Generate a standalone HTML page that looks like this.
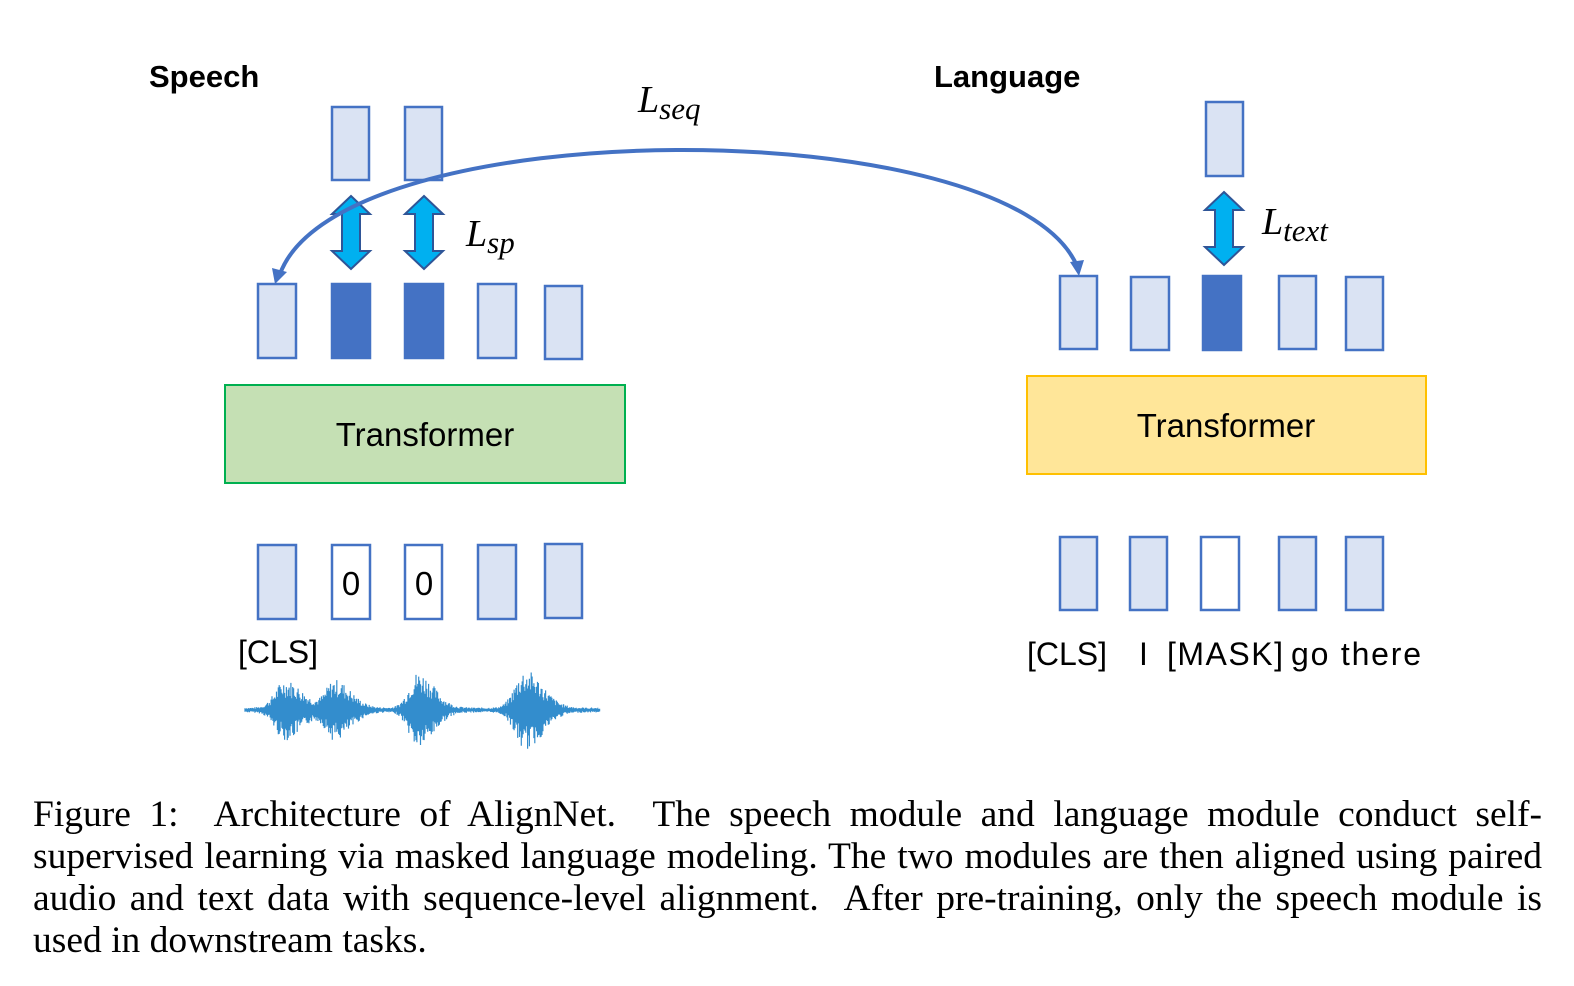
<!DOCTYPE html>
<html><head><meta charset="utf-8">
<style>
html,body{margin:0;padding:0;background:#fff;}
body{width:1574px;height:986px;position:relative;overflow:hidden;}
svg{position:absolute;left:0;top:0;}
#cap{position:absolute;left:33px;top:794px;width:1509px;font-family:"Liberation Serif",serif;font-size:37.5px;line-height:42px;color:#000;}
#cap div{text-align:justify;text-align-last:justify;white-space:nowrap;}
#cap div.last{text-align-last:left;}
</style></head><body>
<svg width="1574" height="986" viewBox="0 0 1574 986" xmlns="http://www.w3.org/2000/svg">
<g font-family="Liberation Sans, sans-serif" font-weight="bold" font-size="31">
<text x="149" y="87">Speech</text>
<text x="934" y="87">Language</text>
</g>
<g stroke="#4472c4" stroke-width="2.5" fill="#dae3f3">
<rect x="332" y="107" width="37" height="73"/>
<rect x="405" y="107" width="37" height="73"/>
<rect x="1206" y="102" width="37" height="74"/>
<rect x="258" y="284" width="38" height="74"/>
<rect x="332" y="284" width="38" height="74" fill="#4472c4"/>
<rect x="405" y="284" width="38" height="74" fill="#4472c4"/>
<rect x="478" y="284" width="38" height="74"/>
<rect x="545" y="286" width="37" height="73"/>
<rect x="258" y="545" width="38" height="74"/>
<rect x="332" y="545" width="38" height="74" fill="#fff"/>
<rect x="405" y="545" width="37" height="74" fill="#fff"/>
<rect x="478" y="545" width="38" height="74"/>
<rect x="545" y="544" width="37" height="74"/>
<rect x="1060" y="276" width="37" height="73"/>
<rect x="1131" y="277" width="38" height="73"/>
<rect x="1203" y="276" width="38" height="74" fill="#4472c4"/>
<rect x="1279" y="276" width="37" height="73"/>
<rect x="1346" y="277" width="37" height="73"/>
<rect x="1060" y="537" width="37" height="73"/>
<rect x="1130" y="537" width="37" height="73"/>
<rect x="1201" y="537" width="38" height="73" fill="#fff"/>
<rect x="1279" y="537" width="37" height="73"/>
<rect x="1346" y="537" width="37" height="73"/>
</g>
<rect x="225" y="385" width="400" height="98" fill="#c5e0b4" stroke="#00b050" stroke-width="2"/>
<rect x="1027" y="376" width="399" height="98" fill="#ffe699" stroke="#ffc000" stroke-width="2"/>
<g font-family="Liberation Sans, sans-serif" font-size="33" text-anchor="middle">
<text x="425" y="446">Transformer</text>
<text x="1226" y="437">Transformer</text>
<text x="351" y="595">0</text>
<text x="424" y="595">0</text>
</g>
<g font-family="Liberation Sans, sans-serif" font-size="32">
<text x="238" y="663">[CLS]</text>
<text x="1027" y="665">[CLS]</text>
<text x="1139" y="665">I</text>
<text x="1167" y="665" textLength="116">[MASK]</text>
<text x="1291" y="665" textLength="130">go there</text>
</g>
<g fill="#00b0f0" stroke="#2f5597" stroke-width="2" stroke-linejoin="miter">
<polygon points="351,196 370,214 360,214 360,251 370,251 351,269 332,251 342,251 342,214 332,214"/>
<polygon points="424,196 443,214 433,214 433,251 443,251 424,269 405,251 415,251 415,214 405,214"/>
<polygon points="1224,192 1243,210 1233,210 1233,247 1243,247 1224,265 1205,247 1215,247 1215,210 1205,210"/>
</g>
<path d="M280,274 C340,110 1010,110 1077,266" fill="none" stroke="#4472c4" stroke-width="4"/>
<polygon points="275,284 272,268 287,272" fill="#4472c4"/>
<polygon points="1079,276 1070,262 1084,260" fill="#4472c4"/>
<g font-family="Liberation Serif, serif" font-style="italic" fill="#000">
<text x="638" y="112" font-size="38">L<tspan font-size="31" dy="7">seq</tspan></text>
<text x="466" y="246" font-size="38">L<tspan font-size="31" dy="7">sp</tspan></text>
<text x="1262" y="234" font-size="38">L<tspan font-size="31" dy="7">text</tspan></text>
</g>
<g id="wave" stroke="#0070c0" stroke-width="1.2" fill="none"></g>
</svg>
<div id="cap">
<div>Figure 1:&nbsp; Architecture of AlignNet.&nbsp; The speech module and language module conduct self-</div>
<div>supervised learning via masked language modeling. The two modules are then aligned using paired</div>
<div>audio and text data with sequence-level alignment.&nbsp; After pre-training, only the speech module is</div>
<div class="last">used in downstream tasks.</div>
</div>
<script>
(function(){
var g=document.getElementById('wave');var d='';
var bursts=[[285,22,28],[335,20,28],[418,20,36],[525,22,38]];
var seed=7;function r(){seed=(seed*9301+49297)%233280;return seed/233280;}
for(var x=245;x<=600;x+=0.9){
 var a=2.5;
 bursts.forEach(function(b){var dx=(x-b[0])/b[1];a+=b[2]*Math.exp(-dx*dx*(dx<0?2.5:0.8));});
 var up=a*(0.4+0.6*r()),dn=a*(0.4+0.6*r());
 d+='M'+x.toFixed(1)+','+(710-up).toFixed(1)+'V'+(710+dn).toFixed(1);
}
var p=document.createElementNS('http://www.w3.org/2000/svg','path');p.setAttribute('d',d);p.setAttribute('stroke-opacity','0.8');g.appendChild(p);
})();
</script>
</body></html>
